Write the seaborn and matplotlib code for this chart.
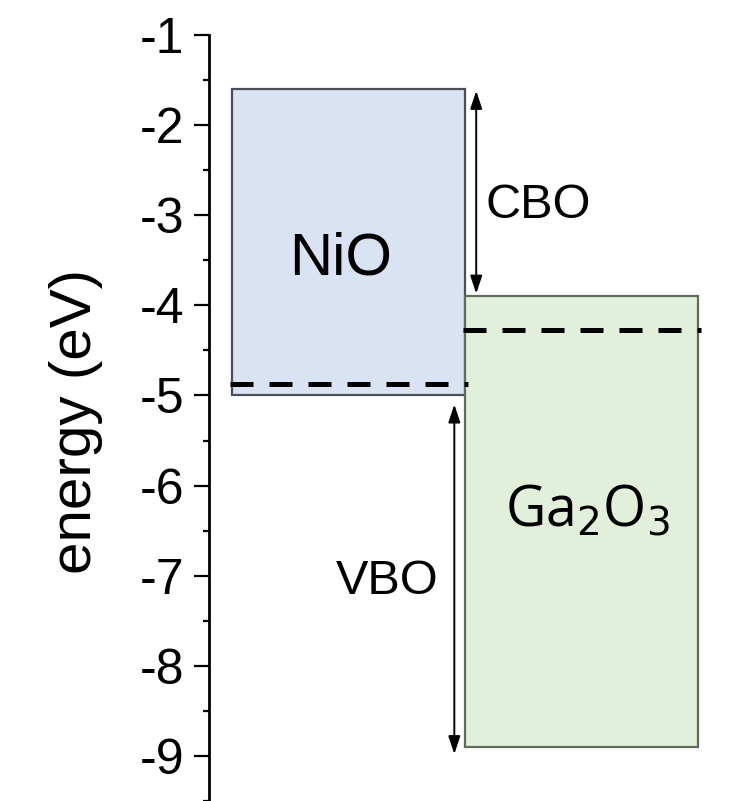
import numpy as np
import pandas as pd
import matplotlib
matplotlib.use("Agg")
import matplotlib.pyplot as plt
import seaborn as sns

# ---- data ----
materials = ["NiO", r"Ga$_{\mathsf{2}}$O$_{\mathsf{3}}$"]
cb_edge = [-1.6, -3.9]          # conduction band minimum (eV)
vb_edge = [-5.0, -8.9]          # valence band maximum (eV)
fermi = [-4.87, -4.27]          # Fermi levels (eV)
offset_names = ["CBO", "VBO"]
offset_from = [-1.62, -5.1]
offset_to = [-3.87, -8.98]
yticks = [-1, -2, -3, -4, -5, -6, -7, -8, -9]

fill_colors = ["#dae3f3", "#e2efda"]
edge_colors = ["#4a4f57", "#5f6b5c"]

sns.set_theme(style="white")
plt.rcParams["font.family"] = ["Liberation Sans", "DejaVu Sans"]
plt.rcParams["mathtext.default"] = "regular"

fig = plt.figure(figsize=(7.46, 8.01), dpi=100)
ax = fig.add_axes([209 / 746, 0.0, 1 - 209 / 746, 1 - 35 / 801])

xpos = np.arange(len(materials))
heights = np.array(cb_edge) - np.array(vb_edge)
ax.bar(xpos, heights, bottom=vb_edge, width=1.0, align="edge",
       color=fill_colors, edgecolor=edge_colors, linewidth=1.6, zorder=2)

# Fermi levels (dashed)
for i in range(len(materials)):
    df = pd.DataFrame({"x": [xpos[i] - 0.01, xpos[i] + 1.01], "y": [fermi[i], fermi[i]]})
    sns.lineplot(data=df, x="x", y="y", ax=ax, color="black", lw=3.6,
                 zorder=3, dashes=False)
    ax.lines[-1].set_dashes((4.6, 3.2))
    ax.lines[-1].set_dash_capstyle("butt")

# material labels
ax.text(0.464, -3.653, materials[0], ha="center", va="baseline",
        fontsize=43, color="black", zorder=4)
ax.text(1.526, -6.45, materials[1], ha="center", va="baseline",
        fontsize=40, color="black", family=["Open Sans", "DejaVu Sans"], zorder=4)

# offset arrows
arrow_x = [1.047, 0.953]
label_xy = [(1.313, -3.03), (0.663, -7.204)]
for i in range(2):
    ax.annotate("", xy=(arrow_x[i], offset_to[i]), xytext=(arrow_x[i], offset_from[i]),
                arrowprops=dict(arrowstyle="<|-|>,head_length=0.9,head_width=0.3",
                                mutation_scale=12, lw=1.4, color="black",
                                shrinkA=0, shrinkB=0), zorder=5)
    ax.text(label_xy[i][0], label_xy[i][1], offset_names[i], ha="center",
            va="baseline", fontsize=35, color="black", zorder=4)

ax.set_xlim(-0.1, 2.205)
ax.set_ylim(-9.49, -1.0)
ax.set_yticks(yticks)
ax.set_yticklabels([str(t) for t in yticks])
ax.set_yticks(np.arange(-9.5, -1.0, 0.5), minor=True)
ax.set_xticks([])
ax.tick_params(axis="y", which="major", direction="out", length=11, width=1.6,
               labelsize=36, pad=7, left=True, color="black", labelcolor="black")
ax.tick_params(axis="y", which="minor", direction="out", length=4.5, width=1.6,
               left=True, color="black")
for s in ["top", "right", "bottom"]:
    ax.spines[s].set_visible(False)
ax.spines["left"].set_linewidth(2.0)
ax.spines["left"].set_color("black")
ax.set_xlabel("")
ax.set_ylabel("energy (eV)", fontsize=42, color="black")
ax.yaxis.set_label_coords(-0.197, 0.495)

fig.savefig("out.png", dpi=100)
